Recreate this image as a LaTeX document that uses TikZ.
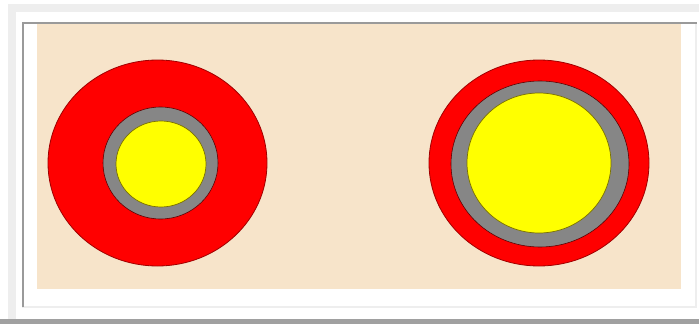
\documentclass[tikz,border=0pt]{standalone}
\definecolor{beige}{HTML}{F7E4CA}
\definecolor{lgray}{HTML}{EEEEEE}
\definecolor{dgray}{HTML}{9A9A9A}
\definecolor{bar}{HTML}{A0A0A0}
\definecolor{ringgray}{HTML}{868686}
\definecolor{redrim}{HTML}{A00000}
\definecolor{yelrim}{HTML}{7A7000}
\definecolor{pureyellow}{RGB}{255,255,0}
\definecolor{purered}{RGB}{255,0,0}
\tikzset{
  redring/.style={fill=purered, draw=redrim, line width=0.8pt},
  grayring/.style={fill=ringgray, draw=redrim!60!black, line width=0.6pt},
  yellowcore/.style={fill=pureyellow, draw=yelrim, line width=0.7pt}
}
\begin{document}
\begin{tikzpicture}[x=1pt,y=-1pt]
\useasboundingbox (0,0) rectangle (699,324);
\fill[white] (0,0) rectangle (699,324);
% outer light frame
\fill[lgray] (8,4) rectangle (699,319);
\fill[white] (16,12) rectangle (699,319);
% inner frame
\fill[white] (22,22) rectangle (697,308);
\draw[lgray, line width=2pt] (696,23) -- (696,307) -- (22,307);
\draw[dgray, line width=2pt] (23,307) -- (23,23) -- (697,23);
% beige panel
\fill[beige] (37,24) rectangle (681,289);
% bottom bar
\fill[bar] (0,319) rectangle (699,324);
% left disc
\draw[redring] (157.5,163) ellipse [x radius=109.5, y radius=103];
\draw[grayring] (160.5,163) ellipse [x radius=57.5, y radius=56];
\draw[yellowcore] (161,164) ellipse [x radius=45, y radius=43];
% right disc
\draw[redring] (539,163) ellipse [x radius=110, y radius=103];
\draw[grayring] (540,164) ellipse [x radius=89, y radius=83];
\draw[yellowcore] (539,163) ellipse [x radius=72, y radius=70];
\end{tikzpicture}
\end{document}
